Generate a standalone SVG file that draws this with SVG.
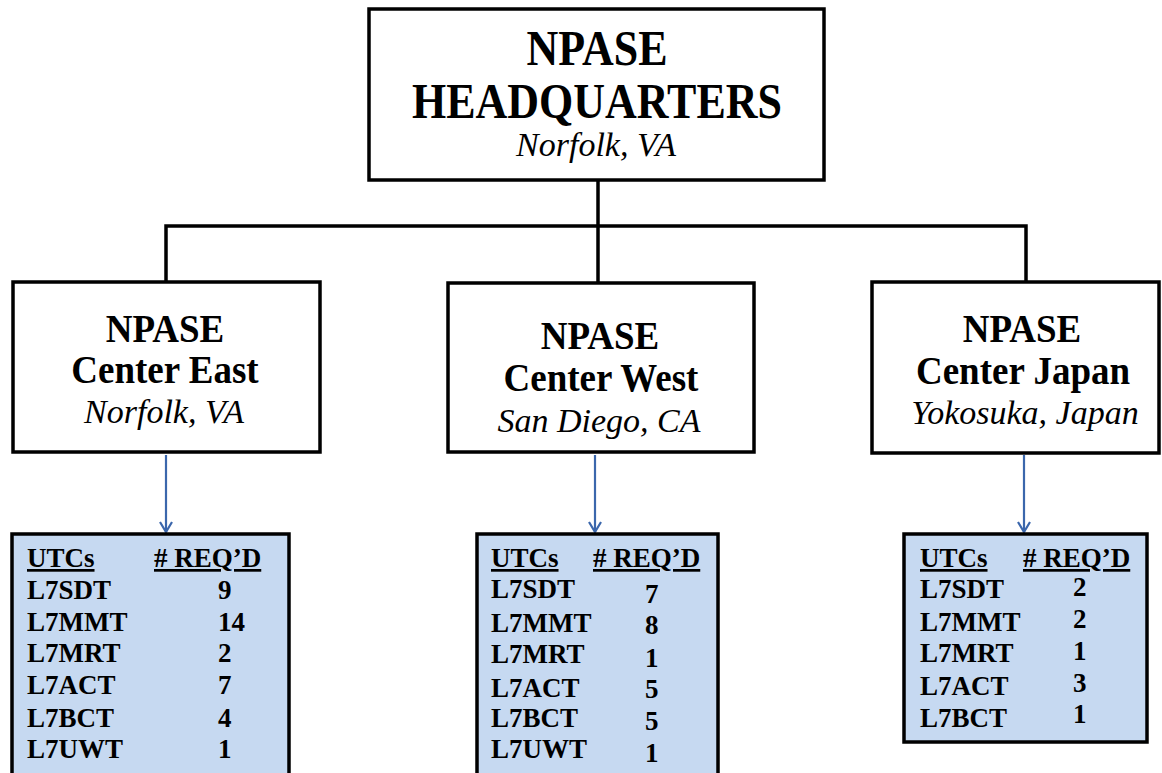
<svg xmlns="http://www.w3.org/2000/svg" width="1162" height="773" viewBox="0 0 1162 773">
<style>
.box{fill:#fff;stroke:#000;stroke-width:3.5}
.tbl{fill:#C6D9F1;stroke:#000;stroke-width:3.5}
.conn{fill:none;stroke:#000;stroke-width:3.5}
.arr{fill:none;stroke:#3B67AC;stroke-width:2.2}
.t{font-family:"Liberation Serif","Times New Roman",serif;fill:#000}
.b{font-weight:bold}
.i{font-style:italic}
.hq{font-size:44px}
.ct{font-size:37px}
.loc{font-size:34px}
.row{font-size:27px;font-weight:bold}
.u{text-decoration:underline}
</style>
<defs>
<marker id="ah" viewBox="0 0 12 14" refX="11" refY="7" markerWidth="12" markerHeight="14" markerUnits="userSpaceOnUse" orient="auto">
<path d="M1,1 L11,7 L1,13" fill="none" stroke="#3B67AC" stroke-width="2.2"/>
</marker>
</defs>
<g id="connectors">
<path class="conn" d="M598,180 V283"/>
<path class="conn" d="M166,283 V226 H1026 V283"/>
<path class="arr" d="M166,455 V532" marker-end="url(#ah)"/>
<path class="arr" d="M595,455 V532" marker-end="url(#ah)"/>
<path class="arr" d="M1024,455 V532" marker-end="url(#ah)"/>
</g>
<g id="hq">
<rect class="box" x="369" y="9" width="455" height="171"/>
<text class="t b hq" text-anchor="middle" transform="translate(597,65) scale(1,1.15)">NPASE</text>
<text class="t b hq" text-anchor="middle" transform="translate(597,118) scale(1,1.15)">HEADQUARTERS</text>
<text class="t i loc" x="596" y="156" text-anchor="middle">Norfolk, VA</text>
</g>
<g id="east">
<rect class="box" x="13" y="282" width="307" height="170"/>
<text class="t b ct" text-anchor="middle" transform="translate(165,342) scale(1,1.08)">NPASE</text>
<text class="t b ct" text-anchor="middle" transform="translate(165,383) scale(1,1.08)">Center East</text>
<text class="t i loc" x="164" y="423" text-anchor="middle">Norfolk, VA</text>
</g>
<g id="west">
<rect class="box" x="448" y="283" width="306" height="169"/>
<text class="t b ct" text-anchor="middle" transform="translate(600,349) scale(1,1.08)">NPASE</text>
<text class="t b ct" text-anchor="middle" transform="translate(601,391) scale(1,1.08)">Center West</text>
<text class="t i loc" x="599" y="432" text-anchor="middle">San Diego, CA</text>
</g>
<g id="japan">
<rect class="box" x="872" y="282" width="287" height="171"/>
<text class="t b ct" text-anchor="middle" transform="translate(1022,342) scale(1,1.08)">NPASE</text>
<text class="t b ct" text-anchor="middle" transform="translate(1023,384) scale(1,1.08)">Center Japan</text>
<text class="t i loc" x="1025" y="424" text-anchor="middle">Yokosuka, Japan</text>
</g>
<g id="east-table">
<rect class="tbl" x="12" y="534" width="277" height="260"/>
<text class="t row u" x="27" y="567">UTCs</text>
<text class="t row u" x="154" y="567"># REQ’D</text>
<text class="t row" x="27" y="599">L7SDT</text><text class="t row" x="218" y="599">9</text>
<text class="t row" x="27" y="631">L7MMT</text><text class="t row" x="218" y="631">14</text>
<text class="t row" x="27" y="662">L7MRT</text><text class="t row" x="218" y="662">2</text>
<text class="t row" x="27" y="694">L7ACT</text><text class="t row" x="218" y="694">7</text>
<text class="t row" x="27" y="727">L7BCT</text><text class="t row" x="218" y="727">4</text>
<text class="t row" x="27" y="758">L7UWT</text><text class="t row" x="218" y="758">1</text>
</g>
<g id="west-table">
<rect class="tbl" x="477" y="534" width="241" height="260"/>
<text class="t row u" x="491" y="567">UTCs</text>
<text class="t row u" x="593" y="567"># REQ’D</text>
<text class="t row" x="491" y="598">L7SDT</text><text class="t row" x="645" y="603">7</text>
<text class="t row" x="491" y="632">L7MMT</text><text class="t row" x="645" y="634">8</text>
<text class="t row" x="491" y="663">L7MRT</text><text class="t row" x="645" y="667">1</text>
<text class="t row" x="491" y="697">L7ACT</text><text class="t row" x="645" y="698">5</text>
<text class="t row" x="491" y="727">L7BCT</text><text class="t row" x="645" y="730">5</text>
<text class="t row" x="491" y="758">L7UWT</text><text class="t row" x="645" y="762">1</text>
</g>
<g id="japan-table">
<rect class="tbl" x="904" y="534" width="243" height="208"/>
<text class="t row u" x="920" y="567">UTCs</text>
<text class="t row u" x="1023" y="567"># REQ’D</text>
<text class="t row" x="920" y="598">L7SDT</text><text class="t row" x="1073" y="596">2</text>
<text class="t row" x="920" y="631">L7MMT</text><text class="t row" x="1073" y="628">2</text>
<text class="t row" x="920" y="662">L7MRT</text><text class="t row" x="1073" y="660">1</text>
<text class="t row" x="920" y="695">L7ACT</text><text class="t row" x="1073" y="692">3</text>
<text class="t row" x="920" y="727">L7BCT</text><text class="t row" x="1073" y="723">1</text>
</g>
</svg>
